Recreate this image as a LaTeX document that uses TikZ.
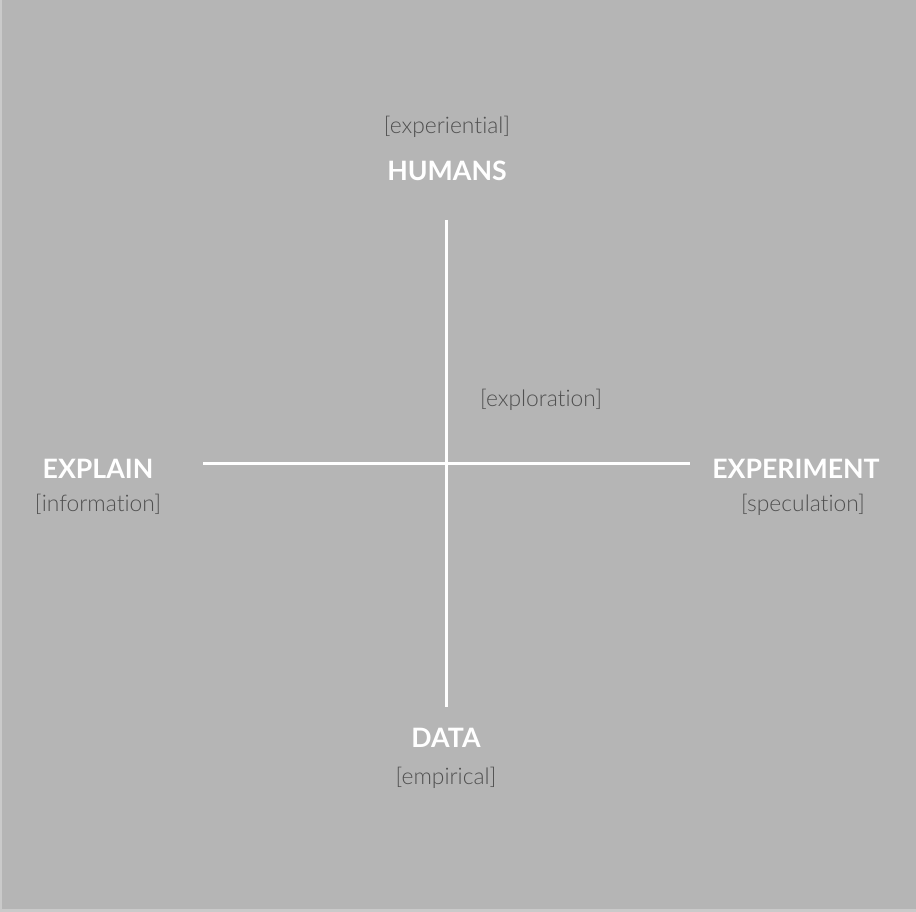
\documentclass[tikz,border=0pt]{standalone}
\usepackage{fontspec}
\setmainfont{Lato}
\newfontfamily\latolight{Lato Light}[Ligatures={NoCommon,NoRare}]
\definecolor{bggrey}{HTML}{B5B5B5}
\definecolor{edgegrey}{HTML}{CACACA}
\definecolor{tagtext}{HTML}{505050}
\tikzset{
  axis/.style={draw=white,line width=1.7pt},
  title/.style={text=white,font=\fontsize{15.2}{18}\selectfont\bfseries},
  tag/.style={text=tagtext,font=\fontsize{13}{15}\selectfont\latolight}
}
\begin{document}
\begin{tikzpicture}[x=0.02cm,y=-0.02cm]
\fill[edgegrey] (0,0) rectangle (916,912);
\fill[bggrey] (2,0) rectangle (916,909);
\useasboundingbox (0,0) rectangle (916,912);
% axes
\coordinate (top) at (446.5,220);
\coordinate (bottom) at (446.5,707);
\coordinate (left) at (203,463.5);
\coordinate (right) at (690,463.5);
\draw[axis] (top) -- (bottom);
\draw[axis] (left) -- (right);
% labels
\node[tag] (experiential) at (447,126.5) {[experiential]};
\node[title] (humans) at (447,170.5) {HUMANS};
\node[tag] (exploration) at (541,399.5) {[exploration]};
\node[title] (explain) at (98,468.5) {EXPLAIN};
\node[tag] (information) at (98,504.5) {[information]};
\node[title] (experiment) at (796,468.5) {EXPERIMENT};
\node[tag] (speculation) at (803,504.5) {[speculation]};
\node[title] (data) at (446,737.5) {DATA};
\node[tag] (empirical) at (446,777.5) {[empirical]};
\end{tikzpicture}
\end{document}
